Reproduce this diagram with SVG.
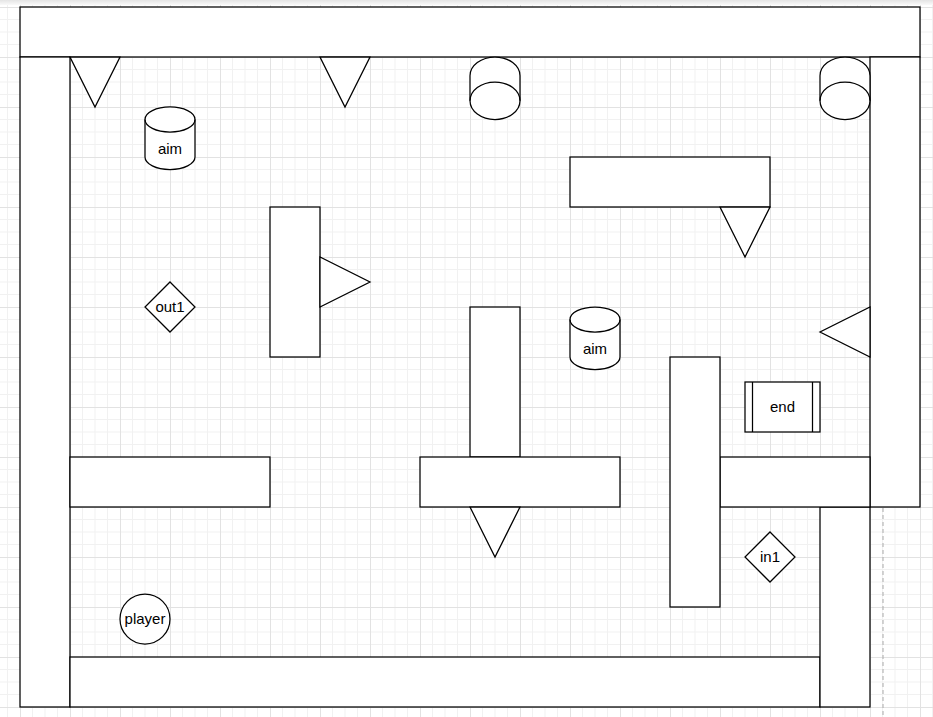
<svg xmlns="http://www.w3.org/2000/svg" width="933" height="717" viewBox="0 0 933 717">
<style>
.s{fill:#fff;stroke:#000;stroke-width:1.25}
.l{fill:none;stroke:#000;stroke-width:1.25}
.t{font-family:"Liberation Sans",Arial,sans-serif;font-size:15px;fill:#000;text-anchor:middle}
</style>
<defs>
<pattern id="grid" patternUnits="userSpaceOnUse" x="20" y="7" width="50" height="50">
<path d="M12.5,0V50M25,0V50M37.5,0V50M0,12.5H50M0,25H50M0,37.5H50" fill="none" stroke="#f1f1f1" stroke-width="1"/>
<path d="M0.5,0V50M0,0.5H50" fill="none" stroke="#e2e2e2" stroke-width="1"/>
</pattern>
<linearGradient id="top" x1="0" y1="0" x2="0" y2="1">
<stop offset="0" stop-color="#e4e4e4"/>
<stop offset="1" stop-color="#fafafa"/>
</linearGradient>
</defs>
<rect x="0" y="0" width="933" height="717" fill="#fff"/>
<rect x="0" y="0" width="933" height="717" fill="url(#grid)"/>
<rect x="0" y="0" width="933" height="5" fill="url(#top)"/>
<line x1="883" y1="508" x2="883" y2="717" stroke="#aaa" stroke-width="1" stroke-dasharray="4 3"/>

<g id="wall-top"><rect class="s" x="20" y="7" width="900" height="50"/></g>
<g id="wall-left"><rect class="s" x="20" y="57" width="50" height="650"/></g>
<g id="wall-right"><rect class="s" x="870" y="57" width="50" height="450"/></g>
<g id="wall-bottom"><rect class="s" x="70" y="657" width="750" height="50"/></g>
<g id="wall-bottom-right"><rect class="s" x="820" y="507" width="50" height="200"/></g>

<g id="tri1"><polygon class="s" points="70,57 120,57 95,107"/></g>
<g id="tri2"><polygon class="s" points="320,57 370,57 345,107"/></g>

<g id="cyl-top1">
<path class="s" d="M470,75.75A25,18.75 0 0 1 520,75.75L520,100.75A25,18.75 0 0 1 470,100.75Z"/>
<path class="l" d="M470,100.75A25,18.75 0 0 1 520,100.75"/>
</g>
<g id="cyl-top2">
<path class="s" d="M820,75.75A25,18.75 0 0 1 870,75.75L870,100.75A25,18.75 0 0 1 820,100.75Z"/>
<path class="l" d="M820,100.75A25,18.75 0 0 1 870,100.75"/>
</g>

<g id="aim1">
<path class="s" d="M145,119.5A25,12.5 0 0 1 195,119.5L195,157A25,12.5 0 0 1 145,157Z"/>
<path class="l" d="M145,119.5A25,12.5 0 0 0 195,119.5"/>
<text class="t" x="170" y="154">aim</text>
</g>

<g id="rect-top-right"><rect class="s" x="570" y="157" width="200" height="50"/></g>
<g id="tri3"><polygon class="s" points="720,207 770,207 745,257"/></g>

<g id="rect-v1"><rect class="s" x="270" y="207" width="50" height="150"/></g>
<g id="tri4"><polygon class="s" points="320,257 320,307 370,282"/></g>

<g id="out1">
<polygon class="s" points="170,282 195,307 170,332 145,307"/>
<text class="t" x="170" y="312">out1</text>
</g>

<g id="aim2">
<path class="s" d="M570,319.5A25,12.5 0 0 1 620,319.5L620,357A25,12.5 0 0 1 570,357Z"/>
<path class="l" d="M570,319.5A25,12.5 0 0 0 620,319.5"/>
<text class="t" x="595" y="354">aim</text>
</g>

<g id="tri5"><polygon class="s" points="870,307 870,357 820,332"/></g>

<g id="rect-v2"><rect class="s" x="470" y="307" width="50" height="150"/></g>
<g id="rect-h-mid"><rect class="s" x="420" y="457" width="200" height="50"/></g>
<g id="tri6"><polygon class="s" points="470,507 520,507 495,557"/></g>

<g id="rect-h-left"><rect class="s" x="70" y="457" width="200" height="50"/></g>

<g id="rect-h-right"><rect class="s" x="720" y="457" width="150" height="50"/></g>
<g id="rect-v3"><rect class="s" x="670" y="357" width="50" height="250"/></g>

<g id="end">
<rect class="s" x="745" y="382" width="75" height="50"/>
<line class="l" x1="752.5" y1="382" x2="752.5" y2="432"/>
<line class="l" x1="812.5" y1="382" x2="812.5" y2="432"/>
<text class="t" x="782.5" y="412">end</text>
</g>

<g id="in1">
<polygon class="s" points="770,532 795,557 770,582 745,557"/>
<text class="t" x="770" y="562">in1</text>
</g>

<g id="player">
<circle class="s" cx="145" cy="619" r="25"/>
<text class="t" x="145" y="624">player</text>
</g>

<g id="connectors"/>
</svg>
